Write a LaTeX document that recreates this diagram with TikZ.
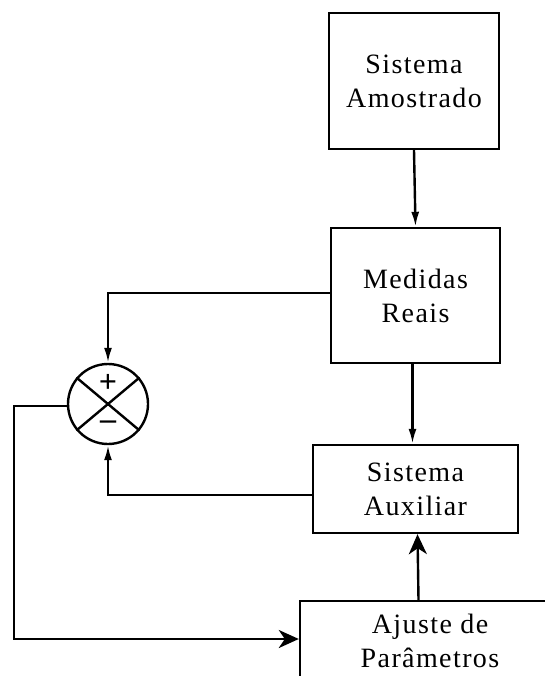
\documentclass[tikz,border=0pt]{standalone}
\usepackage{fontspec}
\setmainfont[LetterSpace=5]{Liberation Serif}
\usetikzlibrary{arrows.meta}
\begin{document}
\begin{tikzpicture}[x=1pt,y=-1pt,
  line width=2.4pt,
  blockbox/.style={draw, rectangle, align=center, inner sep=0pt,
    font=\fontsize{28}{34}\selectfont},
  signfont/.style={font=\bfseries\fontsize{32}{32}\selectfont},
  smalltip/.style={-{Latex[length=15pt,width=8pt]}},
  bigtip/.style={-{Stealth[length=20pt,width=18pt,inset=6pt]}}]
\useasboundingbox (0,0) rectangle (545,676);

% blocks
\node[blockbox, minimum width=170pt, minimum height=136pt] (amostr) at (414,81) {Sistema\\Amostrado};
\node[blockbox, minimum width=169pt, minimum height=135pt] (medidas) at (415.5,295.5) {Medidas\\Reais};
\node[blockbox, minimum width=205pt, minimum height=88pt] (aux) at (415.5,489) {Sistema\\Auxiliar};
\node[blockbox, minimum width=260pt, minimum height=80pt] (ajuste) at (430,641) {Ajuste de\\Parâmetros};

% summing junction
\node[draw, circle, minimum size=80pt, inner sep=0pt] (sum) at (108,404) {};
\draw (sum.40) -- (sum.220);
\draw (sum.140) -- (sum.320);
\node[signfont] (plus) at (108,383) {+};
\node[signfont] (minus) at (108,425) {\textendash};

% connectors
\coordinate (c1) at (108,293);
\coordinate (c2) at (108,495);
\coordinate (c3) at (14,406);
\coordinate (c4) at (14,639);
\draw[smalltip] (amostr.south) -- (medidas.north);
\draw[smalltip] ([xshift=-3pt]medidas.south) -- ([xshift=-3pt]aux.north);
\draw[smalltip] (medidas.west |- c1) -- (c1) -- (sum.north);
\draw[smalltip] (aux.west |- c2) -- (c2) -- (sum.south);
\draw[bigtip] ([xshift=3pt]ajuste.north west -| aux.south) -- ([xshift=2pt]aux.south);
\draw[bigtip] (sum.west |- c3) -- (c3) -- (c4) -- (ajuste.west |- c4);
\end{tikzpicture}
\end{document}
